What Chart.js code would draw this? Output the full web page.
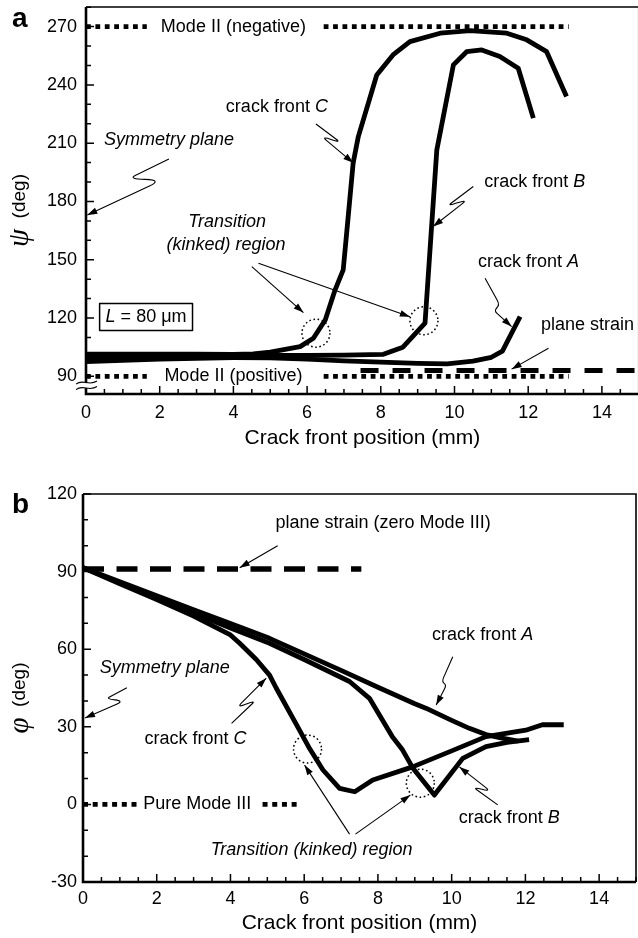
<!DOCTYPE html>
<html>
<head>
<meta charset="utf-8">
<script src="https://cdn.jsdelivr.net/npm/chart.js@4.4.0/dist/chart.umd.min.js"></script>
<style>
  html, body { margin: 0; padding: 0; background: #fff; overflow: hidden; }
  #wrap { position: relative; width: 638px; height: 938px; overflow: hidden; }
  #psiChart { position: absolute; left: 0; top: 0; }
  #phiChart { position: absolute; left: 0; top: 460px; }
</style>
</head>
<body>
<div id="wrap">
  <canvas id="psiChart" width="641" height="460"></canvas>
  <canvas id="phiChart" width="638" height="478"></canvas>
</div>
<script>
var SANS = '"Liberation Sans", Arial, Helvetica, sans-serif';
Chart.defaults.font.family = SANS;
Chart.defaults.color = '#000';

// ---- tick labels ----
var posTicks = [0, 2, 4, 6, 8, 10, 12, 14];
var psiTicks = [90, 120, 150, 180, 210, 240, 270];
var phiTicks = [-30, 0, 30, 60, 90, 120];

// ---- panel a: psi (deg) along the crack front ----
var psiA_x = [0, 1, 2, 3, 4, 5, 6, 7, 8, 9, 9.8, 10.5, 11, 11.3, 11.78];
var psiA_y = [97.6, 98.2, 98.8, 99.3, 99.6, 99.5, 98.8, 98, 97.3, 96.7, 96.4, 97.8, 99.8, 103, 120.7];

var psiB_x = [0, 1, 2, 3, 4, 5, 6, 7, 8.07, 8.6, 9.2, 9.52, 9.97, 10.33, 10.74, 11.23, 11.73, 12.14];
var psiB_y = [99.5, 100, 100.3, 100.5, 100.7, 100.8, 100.8, 100.9, 101.3, 105, 117.4, 206.5, 250.3, 257.1, 258, 254.6, 248.6, 222.9];

var psiC_x = [0, 1, 2, 3, 4, 4.54, 5, 5.81, 6.17, 6.49, 6.76, 6.98, 7.07, 7.25, 7.39, 7.89, 8.33, 8.79, 9.61, 10.42, 11.42, 11.96, 12.5, 13.04];
var psiC_y = [101.4, 101.4, 101.4, 101.4, 101.3, 101.5, 102.5, 105.3, 109.6, 118.9, 134.5, 144.8, 163, 199.8, 213.4, 245.1, 255.4, 262.3, 266.6, 267.9, 266.6, 263.2, 257.1, 234];

var modeIINeg = 270, modeIIPos = 90, psiPlaneStrain = 93;
var modeIISpans = [[0, 1.65], [6.45, 13.1]];
var psiPlaneStrainSpan = [[7.45, 15]];

// ---- panel b: phi (deg) along the crack front ----
var phiA_x = [0, 1, 2, 3, 4, 5.06, 6, 7, 8, 9, 9.3, 10, 10.48, 10.93, 11.3, 11.8];
var phiA_y = [91.5, 86.1, 80.7, 75.3, 69.9, 64.2, 58.2, 51.8, 45.3, 38.9, 37.2, 32.5, 29.4, 27, 25.8, 24.5];

var phiB_x = [0, 1, 2, 3, 4, 5.06, 6, 7.23, 7.77, 8.4, 8.67, 8.94, 9.53, 10.3, 10.93, 11.5, 12.1];
var phiB_y = [91.5, 85.6, 79.8, 74, 68.2, 62.3, 56, 47.5, 41, 26, 21, 14.2, 3.6, 17.8, 22.3, 24, 25];

var phiC_x = [0, 1, 2, 3, 4, 4.25, 4.7, 5.06, 5.24, 5.88, 6.15, 6.51, 6.96, 7.37, 7.86, 8.94, 10, 10.93, 12.01, 12.46, 13.04];
var phiC_y = [91.5, 85.3, 79.2, 72.8, 65.5, 62.3, 56, 50, 45, 28.5, 21.5, 13.3, 6.2, 4.9, 9.4, 14.5, 20.7, 26.2, 28.7, 30.8, 30.8];

var phiPlaneStrain = 91, pureModeIII = 0;
var phiPlaneStrainSpan = [[0, 7.55]];
var pureModeIIISpans = [[0, 1.5], [4.87, 5.9]];

function pts(xs, ys) {
  return xs.map(function (x, i) { return { x: x, y: ys[i] }; });
}
function curve(xs, ys) {
  return { data: pts(xs, ys), borderColor: '#000', borderWidth: 4.8, pointRadius: 0,
           borderJoinStyle: 'round', borderCapStyle: 'butt', tension: 0 };
}
function refLines(spans, level, dash, width) {
  return spans.map(function (s) {
    return { data: [{ x: s[0], y: level }, { x: s[1], y: level }], borderColor: '#000',
             borderWidth: width, borderDash: dash, borderCapStyle: 'butt', pointRadius: 0 };
  });
}

// text runs: [text, style]
function setFont(ctx, style, size) {
  ctx.font = (style ? style + ' ' : '') + size + 'px ' + SANS;
}
function drawRuns(ctx, cx, cy, runs, size) {
  var total = 0, i;
  for (i = 0; i < runs.length; i++) { setFont(ctx, runs[i][1], size); total += ctx.measureText(runs[i][0]).width; }
  var x = cx - total / 2;
  ctx.textAlign = 'left';
  ctx.textBaseline = 'middle';
  for (i = 0; i < runs.length; i++) {
    setFont(ctx, runs[i][1], size);
    ctx.fillText(runs[i][0], x, cy);
    x += ctx.measureText(runs[i][0]).width;
  }
  return total;
}

var notesPlugin = {
  id: 'notes',
  afterDraw: function (chart, args, o) {
    var ctx = chart.ctx, xs = chart.scales.x, ys = chart.scales.y, a = chart.chartArea;
    function P(p) { return [xs.getPixelForValue(p[0]), ys.getPixelForValue(p[1])]; }
    var v, p, i, len;
    ctx.save();
    ctx.strokeStyle = '#000';
    ctx.fillStyle = '#000';

    // frame: heavy left/bottom axes, light top/right
    ctx.lineWidth = 1.6;
    ctx.beginPath(); ctx.moveTo(a.left, a.top); ctx.lineTo(a.right, a.top); ctx.lineTo(a.right, a.bottom); ctx.stroke();
    ctx.lineWidth = 2.6;
    ctx.beginPath(); ctx.moveTo(a.left, a.top); ctx.lineTo(a.left, a.bottom); ctx.lineTo(a.right, a.bottom); ctx.stroke();

    // inward ticks
    ctx.lineWidth = 1.5;
    ctx.beginPath();
    for (v = xs.min; v <= xs.max + 1e-9; v += 0.5) {
      len = Math.abs(v / 2 - Math.round(v / 2)) < 1e-9 ? 8 : 5;
      p = xs.getPixelForValue(v);
      ctx.moveTo(p, a.bottom); ctx.lineTo(p, a.bottom - len);
    }
    for (v = o.yFrom; v <= ys.max + 1e-9; v += 10) {
      len = Math.abs((v - o.yFrom) / 30 - Math.round((v - o.yFrom) / 30)) < 1e-9 ? 8 : 5;
      p = ys.getPixelForValue(v);
      ctx.moveTo(a.left, p); ctx.lineTo(a.left + len, p);
    }
    ctx.stroke();

    // axis break below 90
    if (o.axisBreak) {
      var by = ys.getPixelForValue(o.axisBreak);
      ctx.fillStyle = '#fff';
      ctx.fillRect(a.left - 3, by - 2, 6, 5);
      ctx.fillStyle = '#000';
      ctx.lineWidth = 1.1;
      [by - 2.5, by + 3].forEach(function (yy) {
        ctx.beginPath();
        ctx.moveTo(a.left - 10, yy + 1.5);
        ctx.bezierCurveTo(a.left - 3, yy - 4, a.left + 3, yy + 4, a.left + 11, yy - 1.5);
        ctx.stroke();
      });
    }

    // dotted circles around the kinks
    ctx.lineWidth = 1.5;
    ctx.setLineDash([1.6, 2.6]);
    o.circles.forEach(function (c) {
      p = P(c);
      ctx.beginPath(); ctx.arc(p[0], p[1], 14, 0, Math.PI * 2); ctx.stroke();
    });
    ctx.setLineDash([]);

    // leader arrows; four-point leaders get a rounded zig-zag in the middle
    ctx.lineWidth = 1.1;
    ctx.lineJoin = 'round';
    o.arrows.forEach(function (ar) {
      var q = ar.map(P);
      ctx.beginPath();
      ctx.moveTo(q[0][0], q[0][1]);
      if (q.length === 4) {
        var k = 0.35;
        ctx.lineTo(q[1][0] - (q[1][0] - q[0][0]) * k * 0.5, q[1][1] - (q[1][1] - q[0][1]) * k * 0.5);
        ctx.quadraticCurveTo(q[1][0], q[1][1], (q[1][0] + q[2][0]) / 2, (q[1][1] + q[2][1]) / 2);
        ctx.quadraticCurveTo(q[2][0], q[2][1], q[2][0] + (q[3][0] - q[2][0]) * k * 0.5, q[2][1] + (q[3][1] - q[2][1]) * k * 0.5);
        ctx.lineTo(q[3][0], q[3][1]);
      } else {
        for (i = 1; i < q.length; i++) ctx.lineTo(q[i][0], q[i][1]);
      }
      ctx.stroke();
      var e = q[q.length - 1], s = q[q.length - 2];
      var ang = Math.atan2(e[1] - s[1], e[0] - s[0]);
      ctx.beginPath();
      ctx.moveTo(e[0], e[1]);
      ctx.lineTo(e[0] - 10 * Math.cos(ang) + 3.3 * Math.sin(ang), e[1] - 10 * Math.sin(ang) - 3.3 * Math.cos(ang));
      ctx.lineTo(e[0] - 10 * Math.cos(ang) - 3.3 * Math.sin(ang), e[1] - 10 * Math.sin(ang) + 3.3 * Math.cos(ang));
      ctx.closePath();
      ctx.fill();
    });

    // labels
    o.texts.forEach(function (t) {
      p = P(t.at);
      drawRuns(ctx, p[0], p[1], t.runs, 18);
    });
    if (o.box) {
      p = P(o.box.at);
      var w = drawRuns(ctx, p[0], p[1], o.box.runs, 18);
      ctx.lineWidth = 1.5;
      ctx.strokeRect(p[0] - w / 2 - 6, p[1] - 13.5, w + 12, 27);
    }

    // panel letter
    ctx.font = 'bold 28px ' + SANS;
    ctx.textAlign = 'left';
    ctx.textBaseline = 'alphabetic';
    ctx.fillText(o.letter[0], o.letter[1], o.letter[2]);

    // rotated y title: greek symbol + (deg)
    ctx.translate(20, (a.top + a.bottom) / 2 + 10);
    ctx.rotate(-Math.PI / 2);
    ctx.font = 'italic 29px "Liberation Serif", "DejaVu Serif", serif';
    var w1 = ctx.measureText(o.symbol).width;
    ctx.font = '19px ' + SANS;
    var w2 = ctx.measureText('  (deg)').width;
    ctx.textBaseline = 'middle';
    ctx.font = 'italic 29px "Liberation Serif", "DejaVu Serif", serif';
    ctx.fillText(o.symbol, -(w1 + w2) / 2, 0);
    ctx.font = '19px ' + SANS;
    ctx.fillText('  (deg)', -(w1 + w2) / 2 + w1, 0);
    ctx.restore();
  }
};

function axes(yMin, yMax, yTicksList, yWidth, xHeight, titlePad, xPad, yPad) {
  return {
    x: {
      type: 'linear', min: 0, max: 15,
      grid: { display: false, drawTicks: false }, border: { display: false },
      afterBuildTicks: function (s) { s.ticks = posTicks.map(function (v) { return { value: v }; }); },
      afterFit: function (s) { s.height = xHeight; s.paddingLeft = 0; s.paddingRight = 0; },
      ticks: { font: { size: 18 }, color: '#000', padding: xPad, maxRotation: 0, autoSkip: false },
      title: { display: true, text: 'Crack front position (mm)', font: { size: 21 }, color: '#000',
               padding: { top: 0, bottom: titlePad } }
    },
    y: {
      type: 'linear', min: yMin, max: yMax,
      grid: { display: false, drawTicks: false }, border: { display: false },
      afterBuildTicks: function (s) { s.ticks = yTicksList.map(function (v) { return { value: v }; }); },
      afterFit: function (s) { s.width = yWidth; s.paddingTop = 0; s.paddingBottom = 0; },
      ticks: { font: { size: 18 }, color: '#000', padding: yPad, autoSkip: false }
    }
  };
}

var psiDatasets = []
  .concat(refLines(modeIISpans, modeIINeg, [4.8, 4.6], 4.8))
  .concat(refLines(modeIISpans, modeIIPos, [4.8, 4.6], 4.8))
  .concat(refLines(psiPlaneStrainSpan, psiPlaneStrain, [18, 14], 5))
  .concat([curve(psiA_x, psiA_y), curve(psiB_x, psiB_y), curve(psiC_x, psiC_y)]);

new Chart(document.getElementById('psiChart'), {
  type: 'line',
  data: { datasets: psiDatasets },
  options: {
    responsive: false, animation: false, events: [],
    layout: { padding: { left: 0, top: 7, right: 2.25, bottom: 0 } },
    scales: axes(80.9, 280.1, psiTicks, 86, 66, 9, 8.5, 9),
    plugins: {
      legend: { display: false }, tooltip: { enabled: false },
      notes: {
        letter: ['a', 12, 27], symbol: 'ψ', yFrom: 90, axisBreak: 85.5,
        texts: [
          { at: [4.0, 270], runs: [['Mode II (negative)', '']] },
          { at: [4.0, 90], runs: [['Mode II (positive)', '']] },
          { at: [5.18, 228.7], runs: [['crack front ', ''], ['C', 'italic']] },
          { at: [2.25, 211.7], runs: [['Symmetry plane', 'italic']] },
          { at: [12.18, 190.2], runs: [['crack front ', ''], ['B', 'italic']] },
          { at: [12.01, 149], runs: [['crack front ', ''], ['A', 'italic']] },
          { at: [13.61, 116.5], runs: [['plane strain', '']] },
          { at: [3.83, 169.5], runs: [['Transition', 'italic']] },
          { at: [3.80, 157.7], runs: [['(kinked) region', 'italic']] }
        ],
        box: { at: [1.63, 120.5], runs: [['L', 'italic'], [' = 80 μm', '']] },
        arrows: [
          [[6.24, 219.9], [6.92, 210.2], [6.38, 213.7], [7.25, 199.9]],
          [[2.25, 201.8], [1.14, 191.6], [2.08, 191.1], [0.035, 173.1]],
          [[10.51, 187.7], [9.79, 177.4], [10.37, 181.2], [9.42, 167.1]],
          [[10.83, 140.5], [11.23, 126.8], [11.07, 123.8], [11.55, 115.6]],
          [[12.55, 104.5], [11.55, 93.7]],
          [[4.50, 146.5], [5.90, 122.8]],
          [[4.68, 148.2], [8.79, 120.7]]
        ],
        circles: [[6.24, 112.2], [9.17, 118.6]]
      }
    }
  },
  plugins: [notesPlugin]
});

var phiDatasets = []
  .concat(refLines(phiPlaneStrainSpan, phiPlaneStrain, [21, 12.5], 5.5))
  .concat(refLines(pureModeIIISpans, pureModeIII, [5, 4.7], 4.8))
  .concat([curve(phiA_x, phiA_y), curve(phiB_x, phiB_y), curve(phiC_x, phiC_y)]);

new Chart(document.getElementById('phiChart'), {
  type: 'line',
  data: { datasets: phiDatasets },
  options: {
    responsive: false, animation: false, events: [],
    layout: { padding: { left: 0, top: 34, right: 2, bottom: 0 } },
    scales: axes(-30, 120, phiTicks, 83, 56, 2, 6.2, 6),
    plugins: {
      legend: { display: false }, tooltip: { enabled: false },
      notes: {
        letter: ['b', 12, 53], symbol: 'φ', yFrom: -30,
        texts: [
          { at: [8.14, 108.8], runs: [['plane strain (zero Mode III)', '']] },
          { at: [10.84, 65.5], runs: [['crack front ', ''], ['A', 'italic']] },
          { at: [2.22, 52.8], runs: [['Symmetry plane', 'italic']] },
          { at: [3.05, 25.1], runs: [['crack front ', ''], ['C', 'italic']] },
          { at: [11.56, -5.4], runs: [['crack front ', ''], ['B', 'italic']] },
          { at: [6.20, -17.7], runs: [['Transition (kinked) region', 'italic']] },
          { at: [3.1, 0], runs: [['Pure Mode III', '']] }
        ],
        arrows: [
          [[5.28, 100.0], [4.25, 91.5]],
          [[10.03, 57.1], [9.73, 47.4], [9.86, 46.2], [9.58, 38.4]],
          [[1.19, 45.1], [0.62, 40.8], [1.11, 40.0], [0.054, 33.4]],
          [[4.03, 31.3], [4.70, 40.4], [4.16, 37.2], [4.97, 48.8]],
          [[11.25, -0.2], [10.57, 6.8], [11.07, 4.9], [10.21, 14.5]],
          [[7.23, -11.5], [6.01, 15.2]],
          [[7.39, -11.5], [8.88, 3.6]]
        ],
        circles: [[6.09, 21.4], [9.15, 8.2]]
      }
    }
  },
  plugins: [notesPlugin]
});
</script>
</body>
</html>
